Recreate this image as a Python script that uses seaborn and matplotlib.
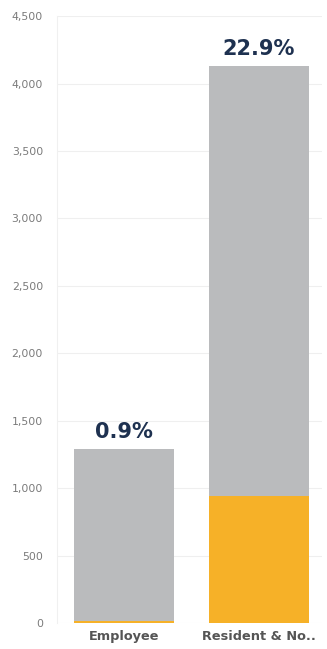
import matplotlib
matplotlib.use("Agg")
import matplotlib.pyplot as plt
import seaborn as sns
import pandas as pd

categories = ["Employee", "Resident & No.."]
totals = [1290, 4130]
highlighted = [12, 945]
pct_labels = ["0.9%", "22.9%"]
y_ticks = [0, 500, 1000, 1500, 2000, 2500, 3000, 3500, 4000, 4500]

sns.set_theme(style="white")
plt.rcParams['font.family'] = ['DejaVu Sans']

df = pd.DataFrame({"category": categories, "total": totals, "highlighted": highlighted})

fig = plt.figure(figsize=(3.27, 6.49), dpi=100)
ax = fig.add_axes([0.174, 0.040, 0.811, 0.935])

sns.barplot(data=df, x="category", y="total", color="#BABBBD", width=0.74,
            saturation=1, linewidth=0, ax=ax, zorder=2)
sns.barplot(data=df, x="category", y="highlighted", color="#F6B128", width=0.74,
            saturation=1, linewidth=0, ax=ax, zorder=3)

for i, (t, lab) in enumerate(zip(totals, pct_labels)):
    ax.text(i, t + 50, lab, ha="center", va="bottom", fontsize=15,
            fontweight="bold", color="#1E3150")

ax.set_ylim(0, 4500)
ax.set_xlim(-0.495, 1.47)
ax.set_yticks(y_ticks)
ax.set_yticklabels([f"{v:,}" for v in y_ticks], fontsize=7.8, color="#7A7A7A")
ax.set_xticks(range(len(categories)))
ax.set_xticklabels(categories, fontsize=9.3, fontweight="bold", color="#555555")
ax.tick_params(axis="x", length=0, pad=5)
ax.tick_params(axis="y", length=0, pad=10)
ax.set_xlabel("")
ax.set_ylabel("")
ax.yaxis.grid(True, color="#EFEFEF", linewidth=0.8, zorder=0)
ax.set_axisbelow(True)
for s in ["top", "right", "bottom"]:
    ax.spines[s].set_visible(False)
ax.spines["left"].set_color("#F0F0F0")
ax.spines["left"].set_linewidth(0.8)

fig.savefig("out.png", dpi=100)
